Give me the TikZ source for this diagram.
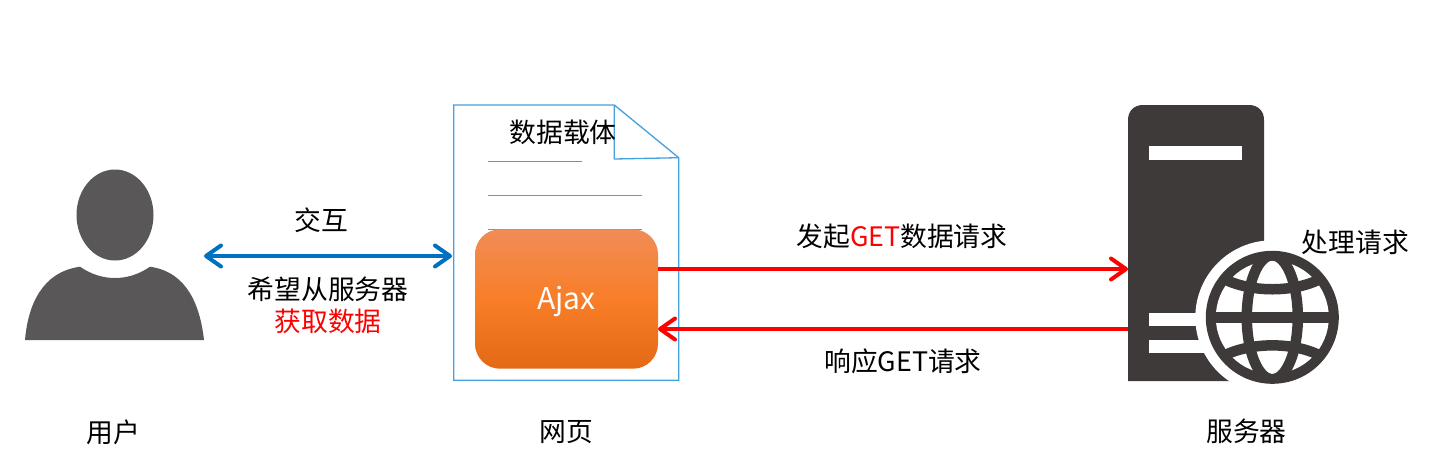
\documentclass[tikz,border=0pt]{standalone}
\usepackage{fontspec}
\setmainfont{Noto Sans CJK SC}
\usetikzlibrary{arrows.meta}
\definecolor{usergray}{HTML}{595757}
\definecolor{serverdark}{HTML}{3E3A39}
\definecolor{pageblue}{HTML}{45A0E0}
\definecolor{linkblue}{HTML}{0070C0}
\tikzset{
  label text/.style={font=\fontsize{26.8}{30}\selectfont, inner sep=0pt, text=black},
  icon box/.style={inner sep=0pt, outer sep=0pt, draw=none},
  page line/.style={draw=pageblue, line width=1.3pt},
  barb tip/.tip={Straight Barb[length=15pt,width=21pt,line width=4pt,round]},
  flow/.style={line width=3.8pt, red, -{barb tip}},
  both flow/.style={line width=3.8pt, linkblue, {barb tip}-{barb tip}, shorten >=1.7pt},
  globe line/.style={draw=serverdark, line width=10.5pt}
}
\begin{document}
\begin{tikzpicture}[x=1pt,y=-1pt]
\useasboundingbox[fill=white] (0,0) rectangle (1447,475);

% user icon
\node[icon box, minimum width=179pt, minimum height=172pt] (user) at (114.5,256) {};
\fill[usergray] (115,215) ellipse [x radius=38.5, y radius=45.5];
\fill[usergray] (25,340) .. controls (28,305) and (42,272) .. (80,266.7)
  .. controls (92,275) and (104,278) .. (115,278)
  .. controls (126,278) and (138,275) .. (150,266.7)
  .. controls (187,272) and (200,305) .. (204,340) -- cycle;

% page
\node[icon box, minimum width=225pt, minimum height=275.3pt] (page) at (566.2,242.7) {};
\draw[page line] (453.7,105) -- (614.3,105) -- (678.7,157.7) -- (678.7,380.3) -- (453.7,380.3) -- cycle;
\draw[page line] (614.3,105) -- (614.3,159) -- (678.7,157.7);
\draw[page line] (487.7,161.3) -- (581.7,161.3);
\draw[page line] (487.7,195.3) -- (641.7,195.3);
\draw[page line] (487.7,229.3) -- (641.7,229.3);

% ajax
\node[rounded corners=25pt, minimum width=183pt, minimum height=139.4pt, inner sep=0pt, outer sep=0pt,
  shade, top color={rgb,255:red,241;green,140;blue,86}, bottom color={rgb,255:red,228;green,105;blue,20}, middle color={rgb,255:red,248;green,126;blue,40}] (ajax) at (566.5,299) {};
\node[text=white, font=\fontsize{30}{32}\selectfont, inner sep=0pt] (ajaxtext) at (566.5,301) {Ajax};

% server
\node[icon box, minimum width=136pt, minimum height=276pt] (server) at (1196,243) {};
\fill[serverdark] (1128,381) -- (1128,120) .. controls (1128,111) and (1134,105) .. (1143,105)
  -- (1249,105) .. controls (1258,105) and (1264,111) .. (1264,120) -- (1264,381) -- cycle;
\fill[white] (1149,146) rectangle (1242,160);
\fill[white] (1149,312.7) rectangle (1240,326);
\fill[white] (1149,340) rectangle (1240,352.7);
\fill[white] (1272.3,317.3) circle [radius=77];
\fill[white] (1230,381) rectangle (1350,395);
\fill[serverdark] (1272.3,317.3) circle [radius=66.5];
\fill[white] (1272.3,317.3) circle [radius=56.5];
\begin{scope}
  \clip (1272.3,317.3) circle [radius=60];
  \draw[globe line] (1272.3,317.3) ellipse [x radius=25.5, y radius=62];
  \draw[globe line, line width=11.5pt] (1205,317.3) -- (1340,317.3);
  \draw[globe line] (1222,278) .. controls (1250,293) and (1295,293) .. (1322,278);
  \draw[globe line] (1222,356.6) .. controls (1250,341.6) and (1295,341.6) .. (1322,356.6);
\end{scope}

% connectors
\coordinate (go) at ([yshift=30pt]ajax.east);
\coordinate (back) at ([yshift=-86pt]server.west);
\draw[both flow] (user.east) -- (user.east -| page.west);
\draw[flow] (go) -- (go -| server.west);
\draw[flow] (back) -- (back -| ajax.east);

% labels
\node[label text] (t1) at (113.5,432) {用户};
\node[label text] (t2) at (566,432) {网页};
\node[label text] (t3) at (1246.5,431) {服务器};
\node[label text] (t4) at (321,220) {交互};
\node[label text] (t5) at (328,289) {希望从服务器};
\node[label text, text=red] (t6) at (328,321) {获取数据};
\node[label text] (t7) at (902,236) {发起\textcolor{red}{GET}数据请求};
\node[label text] (t8) at (903,361) {响应GET请求};
\node[label text] (t9) at (1355.5,242.5) {处理请求};
\node[label text] (t10) at (563,132) {数据载体};
\end{tikzpicture}
\end{document}
